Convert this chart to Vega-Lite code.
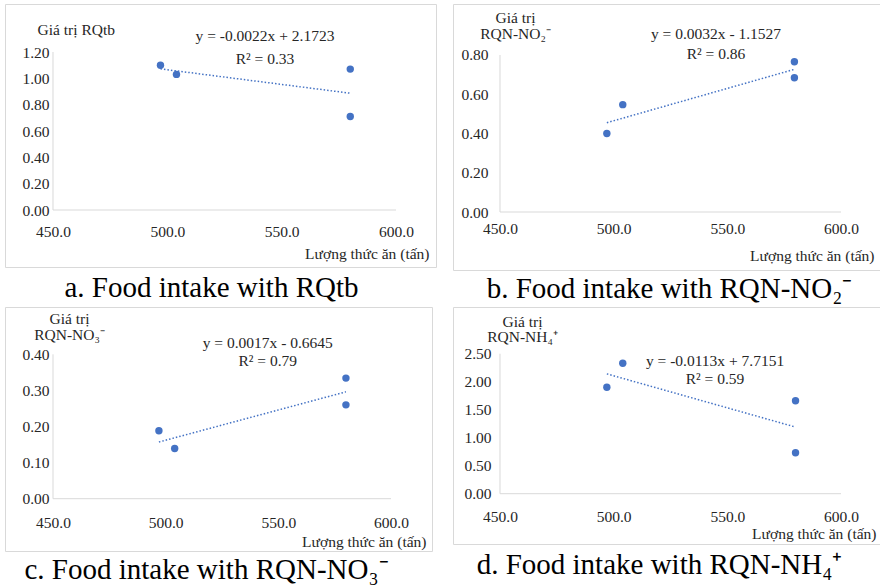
{
  "$schema": "https://vega.github.io/schema/vega-lite/v6.json",
  "padding": {"left": 4, "top": 3, "right": 0, "bottom": 0},
  "background": "white",
  "columns": 2,
  "spacing": {"column": 17, "row": 37},
  "bounds": "flush",
  "align": "all",
  "config": {
    "view": {"stroke": "#d9d9d9", "strokeWidth": 1},
    "font": "Liberation Serif",
    "axis": {
      "domain": false, "grid": false, "ticks": false, "tickSize": 0,
      "labelFont": "Liberation Serif", "labelFontSize": 15.5, "labelColor": "#262626",
      "labelFlush": false, "labelOverlap": false,
      "titleFont": "Liberation Serif", "titleFontSize": 15.5, "titleFontWeight": "normal", "titleColor": "#262626"
    },
    "title": {"font": "Liberation Serif", "fontSize": 29, "fontWeight": "normal", "color": "#000000", "orient": "bottom", "frame": "group", "baseline": "alphabetic", "anchor": "middle"}
  },
  "concat": [
    {
      "width": 431, "height": 263,
      "title": {"text": "a. Food intake with RQtb", "offset": 7, "dx": -9},
      "layer": [
        {
          "data": {"values": [{"x": 497, "y": 1.10}, {"x": 504, "y": 1.03}, {"x": 580, "y": 1.07}, {"x": 580, "y": 0.71}]},
          "mark": {"type": "circle", "size": 55, "color": "#4472C4", "opacity": 1},
          "encoding": {
            "x": {"field": "x", "type": "quantitative", "scale": {"domain": [429.01, 617.49], "nice": false, "zero": false},
              "axis": {"values": [450, 500, 550, 600], "format": ".1f", "offset": -57, "labelPadding": 14, "title": "Lượng thức ăn (tấn)", "titleX": 424, "titleY": 48, "titleAlign": "right", "titleBaseline": "alphabetic"}},
            "y": {"field": "y", "type": "quantitative", "scale": {"domain": [-0.4329, 1.5646], "nice": false, "zero": false},
              "axis": {"values": [0, 0.2, 0.4, 0.6, 0.8, 1.0, 1.2], "format": ".2f", "offset": -48, "labelPadding": 4, "title": "Giá trị RQtb", "titleAngle": 0, "titleX": -16, "titleY": 30, "titleAlign": "left", "titleBaseline": "alphabetic"}}
          }
        },
        {
          "data": {"values": [{"x": 497, "y": 1.072}, {"x": 580, "y": 0.887}]},
          "mark": {"type": "line", "color": "#4472C4", "strokeWidth": 1.5, "strokeDash": [1.5, 2]},
          "encoding": {"x": {"field": "x", "type": "quantitative"}, "y": {"field": "y", "type": "quantitative"}}
        },
        {
          "data": {"values": [{}]},
          "mark": {"type": "rule", "color": "#d9d9d9", "strokeWidth": 1},
          "encoding": {"x": {"datum": 450, "type": "quantitative"}, "y": {"datum": 0, "type": "quantitative"}, "y2": {"datum": 1.2}}
        },
        {
          "data": {"values": [{}]},
          "mark": {"type": "rule", "color": "#d9d9d9", "strokeWidth": 1},
          "encoding": {"x": {"datum": 450, "type": "quantitative"}, "x2": {"datum": 600}, "y": {"datum": 0, "type": "quantitative"}}
        },
        {
          "data": {"values": [{}]},
          "mark": {"type": "text", "font": "Liberation Serif", "fontSize": 15.5, "color": "#262626", "align": "center", "baseline": "alphabetic", "lineHeight": 23},
          "encoding": {"text": {"value": ["y = -0.0022x + 2.1723", "R² = 0.33"]}, "x": {"datum": 542.7, "type": "quantitative"}, "y": {"datum": 1.2835, "type": "quantitative"}}
        }
      ]
    },
    {
      "width": 427, "height": 266,
      "title": {"text": "b. Food intake with RQN-NO₂⁻", "offset": 5, "dx": 3},
      "layer": [
        {
          "data": {"values": [{"x": 497, "y": 0.40}, {"x": 504, "y": 0.547}, {"x": 579.5, "y": 0.766}, {"x": 579.5, "y": 0.684}]},
          "mark": {"type": "circle", "size": 55, "color": "#4472C4", "opacity": 1},
          "encoding": {
            "x": {"field": "x", "type": "quantitative", "scale": {"domain": [429.326, 617.156], "nice": false, "zero": false},
              "axis": {"values": [450, 500, 550, 600], "format": ".1f", "offset": -58, "labelPadding": 9, "title": "Lượng thức ăn (tấn)", "titleX": 421, "titleY": 48, "titleAlign": "right", "titleBaseline": "alphabetic"}},
            "y": {"field": "y", "type": "quantitative", "scale": {"domain": [-0.29554, 1.05987], "nice": false, "zero": false},
              "axis": {"values": [0, 0.2, 0.4, 0.6, 0.8], "format": ".2f", "offset": -47, "labelPadding": 12, "title": ["Giá trị", "RQN-NO₂⁻"], "titleAngle": 0, "titleX": 15, "titleY": 18.7, "titleAlign": "center", "titleBaseline": "alphabetic", "titleLineHeight": 16}}
          }
        },
        {
          "data": {"values": [{"x": 497, "y": 0.455}, {"x": 579.5, "y": 0.727}]},
          "mark": {"type": "line", "color": "#4472C4", "strokeWidth": 1.5, "strokeDash": [1.5, 2]},
          "encoding": {"x": {"field": "x", "type": "quantitative"}, "y": {"field": "y", "type": "quantitative"}}
        },
        {
          "data": {"values": [{}]},
          "mark": {"type": "rule", "color": "#d9d9d9", "strokeWidth": 1},
          "encoding": {"x": {"datum": 450, "type": "quantitative"}, "y": {"datum": 0, "type": "quantitative"}, "y2": {"datum": 0.8}}
        },
        {
          "data": {"values": [{}]},
          "mark": {"type": "rule", "color": "#d9d9d9", "strokeWidth": 1},
          "encoding": {"x": {"datum": 450, "type": "quantitative"}, "x2": {"datum": 600}, "y": {"datum": 0, "type": "quantitative"}}
        },
        {
          "data": {"values": [{}]},
          "mark": {"type": "text", "font": "Liberation Serif", "fontSize": 15.5, "color": "#262626", "align": "center", "baseline": "alphabetic", "lineHeight": 20},
          "encoding": {"text": {"value": ["y = 0.0032x - 1.1527", "R² = 0.86"]}, "x": {"datum": 545.0, "type": "quantitative"}, "y": {"datum": 0.8831, "type": "quantitative"}}
        }
      ]
    },
    {
      "width": 427, "height": 244,
      "title": {"text": "c. Food intake with RQN-NO₃⁻", "offset": 5, "dx": -12},
      "layer": [
        {
          "data": {"values": [{"x": 497, "y": 0.188}, {"x": 504, "y": 0.139}, {"x": 580, "y": 0.334}, {"x": 580, "y": 0.260}]},
          "mark": {"type": "circle", "size": 55, "color": "#4472C4", "opacity": 1},
          "encoding": {
            "x": {"field": "x", "type": "quantitative", "scale": {"domain": [428.698, 618.195], "nice": false, "zero": false},
              "axis": {"values": [450, 500, 550, 600], "format": ".1f", "offset": -52.3, "labelPadding": 17, "title": "Lượng thức ăn (tấn)", "titleX": 421, "titleY": 47.3, "titleAlign": "right", "titleBaseline": "alphabetic"}},
            "y": {"field": "y", "type": "quantitative", "scale": {"domain": [-0.14488, 0.53102], "nice": false, "zero": false},
              "axis": {"values": [0, 0.1, 0.2, 0.3, 0.4], "format": ".2f", "offset": -48, "labelPadding": 4, "title": ["Giá trị", "RQN-NO₃⁻"], "titleAngle": 0, "titleX": 16, "titleY": 16.8, "titleAlign": "center", "titleBaseline": "alphabetic", "titleLineHeight": 16}}
          }
        },
        {
          "data": {"values": [{"x": 497, "y": 0.157}, {"x": 580, "y": 0.296}]},
          "mark": {"type": "line", "color": "#4472C4", "strokeWidth": 1.5, "strokeDash": [1.5, 2]},
          "encoding": {"x": {"field": "x", "type": "quantitative"}, "y": {"field": "y", "type": "quantitative"}}
        },
        {
          "data": {"values": [{}]},
          "mark": {"type": "rule", "color": "#d9d9d9", "strokeWidth": 1},
          "encoding": {"x": {"datum": 450, "type": "quantitative"}, "y": {"datum": 0, "type": "quantitative"}, "y2": {"datum": 0.4}}
        },
        {
          "data": {"values": [{}]},
          "mark": {"type": "rule", "color": "#d9d9d9", "strokeWidth": 1},
          "encoding": {"x": {"datum": 450, "type": "quantitative"}, "x2": {"datum": 600}, "y": {"datum": 0, "type": "quantitative"}}
        },
        {
          "data": {"values": [{}]},
          "mark": {"type": "text", "font": "Liberation Serif", "fontSize": 15.5, "color": "#262626", "align": "center", "baseline": "alphabetic", "lineHeight": 18},
          "encoding": {"text": {"value": ["y = 0.0017x - 0.6645", "R² = 0.79"]}, "x": {"datum": 545.3, "type": "quantitative"}, "y": {"datum": 0.4183, "type": "quantitative"}}
        }
      ]
    },
    {
      "width": 427, "height": 237,
      "title": {"text": "d. Food intake with RQN-NH₄⁺", "offset": 7, "dx": -7},
      "layer": [
        {
          "data": {"values": [{"x": 497, "y": 1.90}, {"x": 504, "y": 2.33}, {"x": 580, "y": 1.66}, {"x": 580, "y": 0.73}]},
          "mark": {"type": "circle", "size": 55, "color": "#4472C4", "opacity": 1},
          "encoding": {
            "x": {"field": "x", "type": "quantitative", "scale": {"domain": [429.326, 617.156], "nice": false, "zero": false},
              "axis": {"values": [450, 500, 550, 600], "format": ".1f", "offset": -50.3, "labelPadding": 15.5, "title": "Lượng thức ăn (tấn)", "titleX": 423, "titleY": 44.6, "titleAlign": "right", "titleBaseline": "alphabetic"}},
            "y": {"field": "y", "type": "quantitative", "scale": {"domain": [-0.8982, 3.3339], "nice": false, "zero": false},
              "axis": {"values": [0, 0.5, 1.0, 1.5, 2.0, 2.5], "format": ".2f", "offset": -47, "labelPadding": 9, "title": ["Giá trị", "RQN-NH₄⁺"], "titleAngle": 0, "titleX": 22, "titleY": 19, "titleAlign": "center", "titleBaseline": "alphabetic", "titleLineHeight": 15.7}}
          }
        },
        {
          "data": {"values": [{"x": 497, "y": 2.14}, {"x": 580, "y": 1.19}]},
          "mark": {"type": "line", "color": "#4472C4", "strokeWidth": 1.5, "strokeDash": [1.5, 2]},
          "encoding": {"x": {"field": "x", "type": "quantitative"}, "y": {"field": "y", "type": "quantitative"}}
        },
        {
          "data": {"values": [{}]},
          "mark": {"type": "rule", "color": "#d9d9d9", "strokeWidth": 1},
          "encoding": {"x": {"datum": 450, "type": "quantitative"}, "y": {"datum": 0, "type": "quantitative"}, "y2": {"datum": 2.5}}
        },
        {
          "data": {"values": [{}]},
          "mark": {"type": "rule", "color": "#d9d9d9", "strokeWidth": 1},
          "encoding": {"x": {"datum": 450, "type": "quantitative"}, "x2": {"datum": 600}, "y": {"datum": 0, "type": "quantitative"}}
        },
        {
          "data": {"values": [{}]},
          "mark": {"type": "text", "font": "Liberation Serif", "fontSize": 15.5, "color": "#262626", "align": "center", "baseline": "alphabetic", "lineHeight": 17.7},
          "encoding": {"text": {"value": ["y = -0.0113x + 7.7151", "R² = 0.59"]}, "x": {"datum": 544.6, "type": "quantitative"}, "y": {"datum": 2.2804, "type": "quantitative"}}
        }
      ]
    }
  ]
}
